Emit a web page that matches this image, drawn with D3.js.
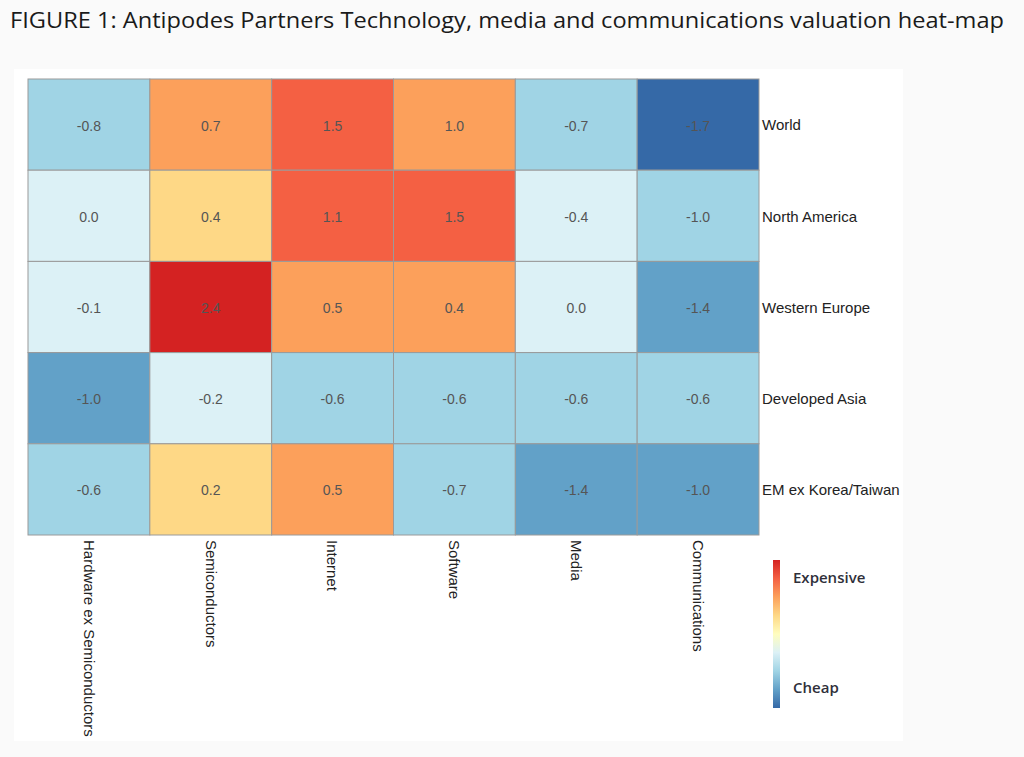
<!DOCTYPE html>
<html><head><meta charset="utf-8">
<script src="https://cdn.jsdelivr.net/npm/d3@7"></script>
<style>
html,body{margin:0;padding:0;background:#fafafa;}
svg{display:block;}
</style></head>
<body>
<svg id="c" width="1024" height="757"></svg>
<script>
const title = "FIGURE 1: Antipodes Partners Technology, media and communications valuation heat-map";
const columns = ["Hardware ex Semiconductors","Semiconductors","Internet","Software","Media","Communications"];
const rows = ["World","North America","Western Europe","Developed Asia","EM ex Korea/Taiwan"];
const world = [-0.8, 0.7, 1.5, 1.0, -0.7, -1.7];
const northAmerica = [0.0, 0.37, 1.1, 1.5, -0.4, -0.96];
const westernEurope = [-0.1, 2.4, 0.5, 0.43, 0.0, -1.4];
const developedAsia = [-1.04, -0.2, -0.6, -0.6, -0.6, -0.6];
const emExKoreaTaiwan = [-0.6, 0.2, 0.5, -0.7, -1.4, -1.04];
const seriesValues = [world, northAmerica, westernEurope, developedAsia, emExKoreaTaiwan];
const binEdges = [-1.5, -1.0, -0.5, 0.05, 0.4, 1.05, 2.0];
const binColors = ["#3569a7","#62a1c8","#a0d4e5","#dcf1f6","#fed886","#fca05b","#f46043","#d42222"];
const legendLabels = ["Expensive","Cheap"];
const legendStops = ["#d42222","#f46043","#fca05b","#fed886","#fffdbf","#dcf1f6","#a0d4e5","#62a1c8","#3569a7"];

const svg = d3.select("#c");
svg.append("rect").attr("x",14).attr("y",69).attr("width",889).attr("height",672).attr("fill","#ffffff");

svg.append("text").attr("x",10).attr("y",28)
  .attr("font-family","'Open Sans'").attr("font-size",21).attr("fill","#1a1a1a")
  .attr("textLength",994).attr("lengthAdjust","spacingAndGlyphs")
  .text(title);

const x = d3.scaleBand().domain(columns).range([28,759]);
const y = d3.scaleBand().domain(rows).range([79,535]);
const color = d3.scaleThreshold().domain(binEdges).range(binColors);

const cells = [];
rows.forEach((r,i)=>columns.forEach((c,j)=>cells.push({r,c,v:seriesValues[i][j]})));

const g = svg.append("g");
g.selectAll("rect.cell").data(cells).join("rect").attr("class","cell")
  .attr("x",d=>x(d.c)).attr("y",d=>y(d.r))
  .attr("width",x.bandwidth()).attr("height",y.bandwidth())
  .attr("fill",d=>color(d.v)).attr("stroke","#9a9a9a").attr("stroke-width",1);

g.selectAll("text.val").data(cells).join("text").attr("class","val")
  .attr("x",d=>x(d.c)+x.bandwidth()/2).attr("y",d=>y(d.r)+y.bandwidth()/2+1)
  .attr("dy","0.35em").attr("text-anchor","middle")
  .attr("font-family","'Liberation Sans', Arial, sans-serif").attr("font-size",14).attr("fill","#555")
  .text(d=>d.v.toFixed(1));

// row labels (right axis)
const yAxis = d3.axisRight(y).tickSize(0).tickPadding(3);
const ya = svg.append("g").attr("transform","translate(759,1)").call(yAxis);
ya.select(".domain").remove();
ya.selectAll("text").attr("font-family","'Liberation Sans', Arial, sans-serif").attr("font-size",15).attr("fill","#222");

// column labels (bottom axis, rotated)
const xAxis = d3.axisBottom(x).tickSize(0).tickPadding(0);
const xa = svg.append("g").attr("transform","translate(0,535)").call(xAxis);
xa.select(".domain").remove();
xa.selectAll("text")
  .attr("font-family","'Liberation Sans', Arial, sans-serif").attr("font-size",15).attr("fill","#222")
  .attr("text-anchor","start").attr("dy","0.35em").attr("y",0)
  .attr("transform","translate(0,5) rotate(90)");

// legend
const defs = svg.append("defs");
const grad = defs.append("linearGradient").attr("id","lg").attr("x1",0).attr("y1",0).attr("x2",0).attr("y2",1);
legendStops.forEach((c,i)=>{
  grad.append("stop").attr("offset",i/(legendStops.length-1)).attr("stop-color",c);
});
svg.append("rect").attr("x",773).attr("y",560).attr("width",7).attr("height",148).attr("fill","url(#lg)");
svg.selectAll("text.leg").data(legendLabels).join("text").attr("class","leg")
  .attr("x",793).attr("y",(d,i)=>i===0?578:688).attr("dy","0.35em")
  .attr("font-family","'Open Sans'").attr("font-size",15).attr("font-weight",600).attr("fill","#2f2f3a")
  .text(d=>d);
</script>
</body></html>
